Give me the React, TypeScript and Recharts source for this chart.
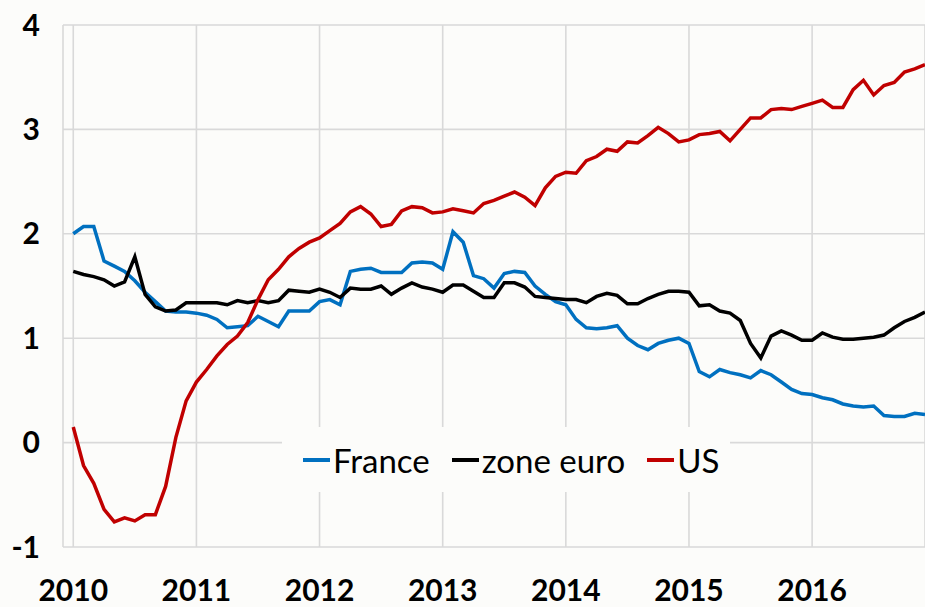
import React from 'react';
import { LineChart, Line, XAxis, YAxis, CartesianGrid, Legend } from 'recharts';

// monthly values, Jan 2010 .. Dec 2016
const years = [2010, 2011, 2012, 2013, 2014, 2015, 2016];
const yTicks = [-1, 0, 1, 2, 3, 4];

const france = [
  2.0, 2.07, 2.07, 1.74, 1.69, 1.64, 1.55, 1.44, 1.35, 1.26, 1.25, 1.25,
  1.24, 1.22, 1.18, 1.1, 1.11, 1.12, 1.21, 1.16, 1.11, 1.26, 1.26, 1.26,
  1.35, 1.37, 1.32, 1.64, 1.66, 1.67, 1.63, 1.63, 1.63, 1.72, 1.73, 1.72,
  1.66, 2.02, 1.92, 1.6, 1.57, 1.48, 1.62, 1.64, 1.63, 1.5, 1.42, 1.35,
  1.32, 1.18, 1.1, 1.09, 1.1, 1.12, 1.0, 0.93, 0.89, 0.95, 0.98, 1.0,
  0.95, 0.68, 0.63, 0.7, 0.67, 0.65, 0.62, 0.69, 0.65, 0.58, 0.51, 0.47,
  0.46, 0.43, 0.41, 0.37, 0.35, 0.34, 0.35, 0.26, 0.25, 0.25, 0.28, 0.27,
];

const zoneEuro = [
  1.64, 1.61, 1.59, 1.56, 1.5, 1.54, 1.78, 1.42, 1.3, 1.26, 1.27, 1.34,
  1.34, 1.34, 1.34, 1.32, 1.36, 1.34, 1.36, 1.34, 1.36, 1.46, 1.45, 1.44,
  1.47, 1.44, 1.39, 1.48, 1.47, 1.47, 1.5, 1.42, 1.48, 1.53, 1.49, 1.47,
  1.44, 1.51, 1.51, 1.45, 1.39, 1.39, 1.53, 1.53, 1.49, 1.4, 1.39, 1.38,
  1.37, 1.37, 1.34, 1.4, 1.43, 1.41, 1.33, 1.33, 1.38, 1.42, 1.45, 1.45,
  1.44, 1.31, 1.32, 1.26, 1.24, 1.17, 0.95, 0.81, 1.02, 1.07, 1.03, 0.98,
  0.98, 1.05, 1.01, 0.99, 0.99, 1.0, 1.01, 1.03, 1.1, 1.16, 1.2, 1.25,
];

const us = [
  0.15, -0.22, -0.39, -0.64, -0.76, -0.72, -0.75, -0.69, -0.69, -0.42, 0.05, 0.4,
  0.58, 0.7, 0.83, 0.94, 1.02, 1.15, 1.37, 1.56, 1.66, 1.78, 1.86, 1.92,
  1.96, 2.03, 2.1, 2.21, 2.26, 2.19, 2.07, 2.09, 2.22, 2.26, 2.25, 2.2,
  2.21, 2.24, 2.22, 2.2, 2.29, 2.32, 2.36, 2.4, 2.35, 2.27, 2.44, 2.55,
  2.59, 2.58, 2.7, 2.74, 2.81, 2.79, 2.88, 2.87, 2.94, 3.02, 2.96, 2.88,
  2.9, 2.95, 2.96, 2.98, 2.89, 3.0, 3.11, 3.11, 3.19, 3.2, 3.19, 3.22,
  3.25, 3.28, 3.21, 3.21, 3.38, 3.47, 3.33, 3.42, 3.45, 3.55, 3.58, 3.62,
];

const series = [
  { key: 'france', name: 'France', color: '#0070C0' },
  { key: 'euro', name: 'zone euro', color: '#000000' },
  { key: 'us', name: 'US', color: '#C00000' },
];

const data = france.map((v, i) => ({
  t: years[0] + i / 12,
  france: v,
  euro: zoneEuro[i],
  us: us[i],
}));

const BG = '#fcfcfa';
const FONT = 'Lato, "Open Sans", sans-serif';

const renderLegend = () => (
  <div
    style={{
      display: 'flex',
      alignItems: 'center',
      height: 65,
      paddingLeft: 21,
      background: BG,
      fontFamily: FONT,
      fontSize: 33,
      color: '#000',
      whiteSpace: 'nowrap',
      boxSizing: 'border-box',
    }}
  >
    {series.map(s => (
      <div key={s.key} style={{ display: 'flex', alignItems: 'center', marginRight: 22, flexShrink: 0 }}>
        <span style={{ display: 'inline-block', width: 27, height: 4, background: s.color, marginRight: 3 }} />
        <span>{s.name}</span>
      </div>
    ))}
  </div>
);

export default function App() {
  return (
    <div style={{ position: 'absolute', left: 0, top: 0, width: 925, height: 607, background: BG }}>
      <LineChart width={925} height={607} data={data} margin={{ top: 25, right: 0, bottom: 27, left: 0 }}>
        <CartesianGrid stroke="#d9d9d9" strokeWidth={1.6} />
        <XAxis
          dataKey="t"
          type="number"
          domain={[years[0] - 1 / 12, years[0] + 83 / 12]}
          ticks={years}
          allowDataOverflow
          axisLine={false}
          tickLine={false}
          tickSize={0}
          tickMargin={33}
          height={33}
          interval={0}
          tick={{ fontFamily: FONT, fontSize: 30, fontWeight: 700, fill: '#000' }}
        />
        <YAxis
          type="number"
          domain={[-1, 4]}
          ticks={yTicks}
          axisLine={false}
          tickLine={false}
          tickSize={0}
          tickMargin={23}
          width={63}
          interval={0}
          tick={{ fontFamily: FONT, fontSize: 30, fontWeight: 700, fill: '#000' }}
        />
        <Legend
          layout="horizontal"
          verticalAlign="middle"
          align="center"
          content={renderLegend}
          wrapperStyle={{ left: 282, top: 427, width: 448, height: 65 }}
        />
        {series.map(s => (
          <Line
            key={s.key}
            type="linear"
            dataKey={s.key}
            name={s.name}
            stroke={s.color}
            strokeWidth={3.5}
            dot={false}
            isAnimationActive={false}
          />
        ))}
      </LineChart>
    </div>
  );
}
